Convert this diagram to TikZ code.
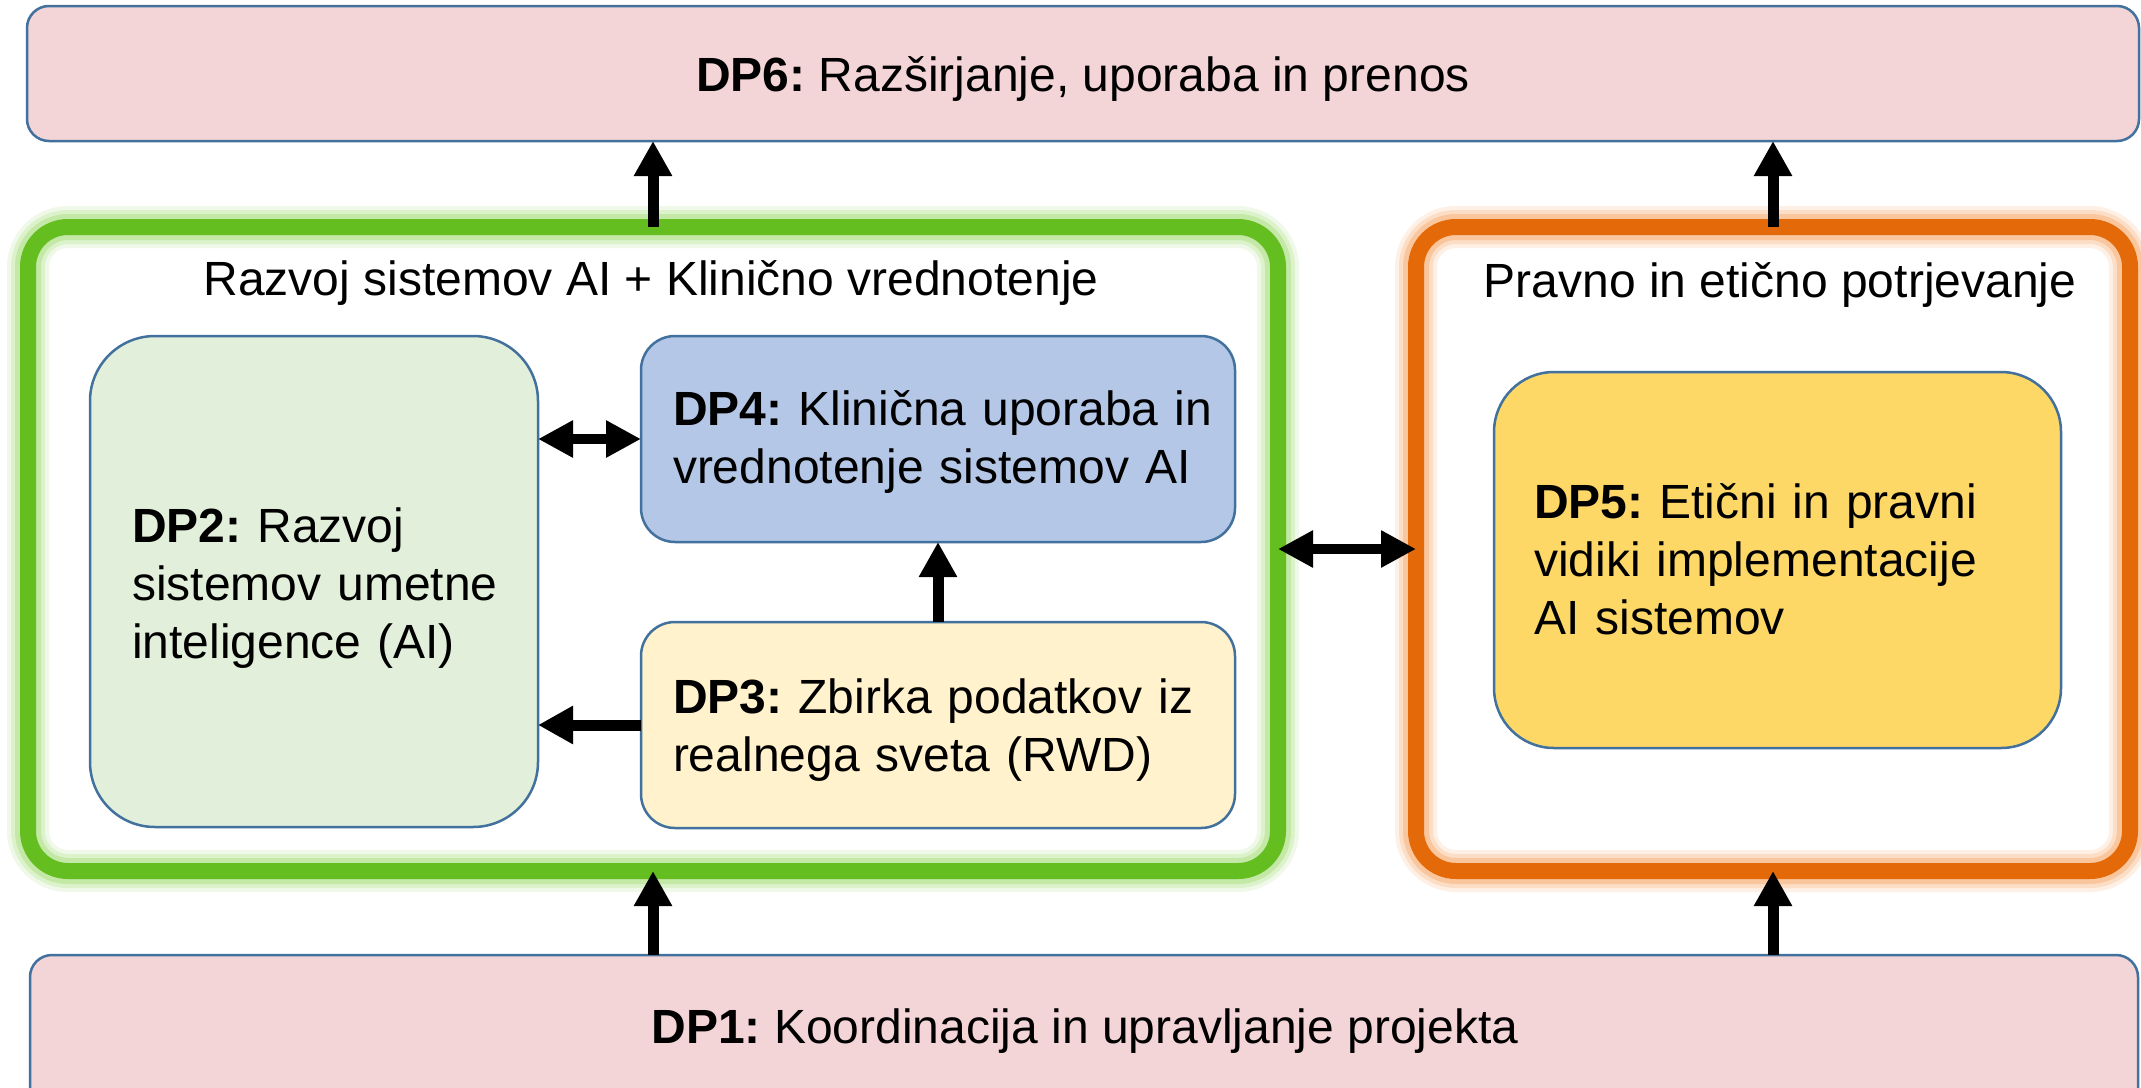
\documentclass[tikz,border=0pt]{standalone}
\usepackage{fontspec}
\setmainfont{Liberation Sans}
\usetikzlibrary{arrows.meta}
\definecolor{pinkfill}{RGB}{244,213,215}
\definecolor{outline}{RGB}{65,113,156}
\definecolor{dptwo}{RGB}{226,239,218}
\definecolor{dpfour}{RGB}{180,199,231}
\definecolor{dpthree}{RGB}{255,242,204}
\definecolor{dpfive}{RGB}{254,216,102}
\definecolor{greenmain}{RGB}{100,190,32}
\definecolor{greenglowA}{RGB}{240,249,233}
\definecolor{greenglowM}{RGB}{220,242,202}
\definecolor{greenglowB}{RGB}{196,232,166}
\definecolor{orangemain}{RGB}{228,105,8}
\definecolor{orangeglowA}{RGB}{254,240,229}
\definecolor{orangeglowM}{RGB}{252,222,198}
\definecolor{orangeglowB}{RGB}{249,198,158}
\tikzset{
  wpbox/.style={draw=outline, line width=2.5pt, inner sep=0pt, outer sep=0pt, rectangle},
  framebox/.style={rectangle, inner sep=0pt, outer sep=0pt, rounded corners=40pt,
    minimum width=#1},
  lbl/.style={font=\fontsize{48}{58}\selectfont\frenchspacing, inner sep=0pt, outer sep=0pt, text=black},
  mlbl/.style={lbl, align=left, anchor=base west},
  bigarrow/.style={line width=11pt, -{Triangle[width=36pt,length=35pt]}},
  dblarrow/.style={line width=10pt, {Triangle[width=35pt,length=35pt]}-{Triangle[width=35pt,length=35pt]}},
}
\begin{document}
\frenchspacing
\begin{tikzpicture}[x=1pt,y=-1pt]
\useasboundingbox (0,0) rectangle (2141,1087);
\fill[white] (0,0) rectangle (2141,1087);

% outer frames
\node[framebox=1250pt, minimum height=644pt, draw=greenmain, line width=16pt,
  preaction={draw=greenglowA, line width=42pt},
  preaction={draw=greenglowM, line width=34pt},
  preaction={draw=greenglowB, line width=26pt}] (green) at (653,549) {};
\node[framebox=714pt, minimum height=644pt, draw=orangemain, line width=16pt,
  preaction={draw=orangeglowA, line width=42pt},
  preaction={draw=orangeglowM, line width=34pt},
  preaction={draw=orangeglowB, line width=26pt}] (orange) at (1773,549) {};

% boxes
\node[wpbox, fill=pinkfill, rounded corners=22pt, minimum width=2112pt, minimum height=135pt] (dp6) at (1083,73.5) {};
\node[wpbox, fill=pinkfill, rounded corners=22pt, minimum width=2108pt, minimum height=170pt] (dp1) at (1084,1040) {};
\node[wpbox, fill=dptwo, rounded corners=65pt, minimum width=448pt, minimum height=491pt] (dp2) at (314,581.5) {};
\node[wpbox, fill=dpfour, rounded corners=34pt, minimum width=594pt, minimum height=206pt] (dp4) at (938,439) {};
\node[wpbox, fill=dpthree, rounded corners=34pt, minimum width=594pt, minimum height=206pt] (dp3) at (938,725) {};
\node[wpbox, fill=dpfive, rounded corners=60pt, minimum width=567pt, minimum height=376pt] (dp5) at (1777.5,560) {};

% texts
\node[lbl, anchor=base] (t6) at (1083,91) {\textbf{DP6:} Razširjanje, uporaba in prenos};
\node[lbl, anchor=base] (t1) at (1085,1043) {\textbf{DP1:} Koordinacija in upravljanje projekta};
\node[lbl, anchor=base] (tg) at (651,295) {Razvoj sistemov AI + Klinično vrednotenje};
\node[lbl, anchor=base] (to) at (1780,297) {Pravno in etično potrjevanje};
\node[mlbl, text width=420pt] (t2) at (132,542) {\textbf{DP2:} Razvoj\\sistemov umetne\\inteligence (AI)};
\node[mlbl, text width=560pt] (t4) at (673,425) {\textbf{DP4:} Klinična uporaba in\\vrednotenje sistemov AI};
\node[mlbl, text width=560pt] (t3) at (673,713) {\textbf{DP3:} Zbirka podatkov iz\\realnega sveta (RWD)};
\node[mlbl, text width=520pt] (t5) at (1534,518) {\textbf{DP5:} Etični in pravni\\vidiki implementacije\\AI sistemov};

% connectors
\draw[bigarrow] (green.north) -- (green.north |- dp6.south);
\draw[bigarrow] (orange.north) -- (orange.north |- dp6.south);
\draw[bigarrow] (green.south |- dp1.north) -- (green.south);
\draw[bigarrow] (orange.south |- dp1.north) -- (orange.south);
\draw[dblarrow] (dp4.west -| dp2.east) -- (dp4.west);
\draw[bigarrow] (dp3.west) -- (dp3.west -| dp2.east);
\draw[bigarrow] (dp3.north) -- (dp4.south);
\draw[dblarrow] (green.east) -- (orange.west);
\end{tikzpicture}
\end{document}
